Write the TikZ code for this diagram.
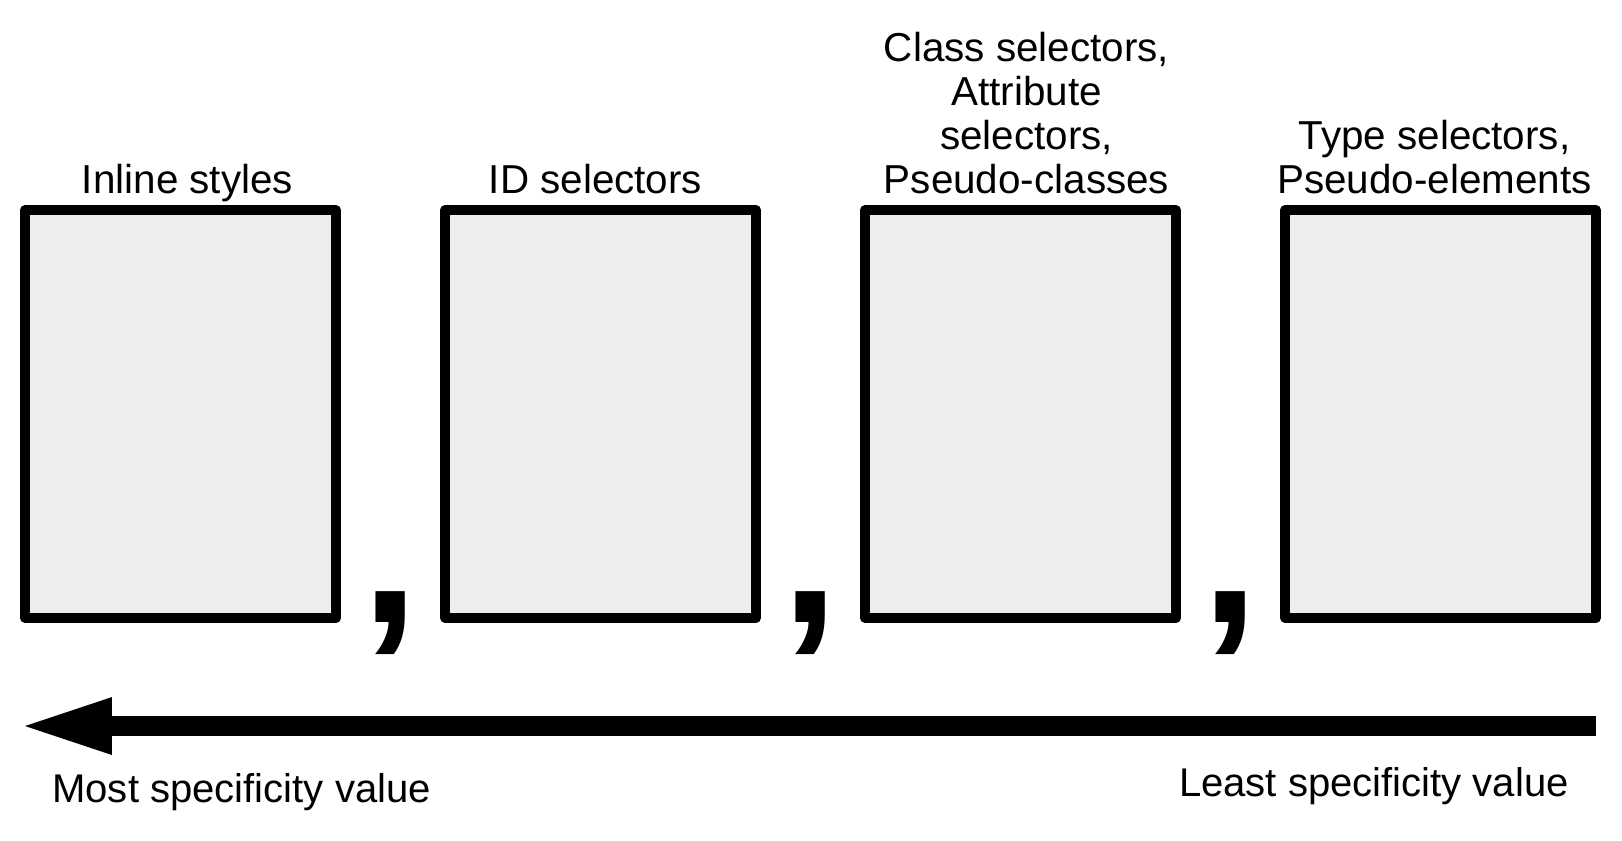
\documentclass[tikz,border=0pt]{standalone}
\usepackage{fontspec}
\setmainfont{Liberation Sans}
\usepackage{tikz}
\usetikzlibrary{positioning, arrows.meta}
\definecolor{boxgray}{HTML}{EDEDED}

\begin{document}
\begin{tikzpicture}[x=0.02cm, y=-0.02cm,
    selbox/.style={draw, line width=0.2cm, fill=boxgray, line join=round,
      minimum width=6.22cm, minimum height=8.16cm, inner sep=0pt, outer sep=0pt},
    sellabel/.style={align=center, inner sep=0pt, text depth=0pt,
      font=\fontsize{23}{25}\selectfont},
    endlabel/.style={inner sep=0pt, font=\fontsize{22.8}{25}\selectfont},
    sepcomma/.style={anchor=base, inner sep=0pt,
      font=\fontsize{118}{118}\selectfont\bfseries}]
    \useasboundingbox (0,0) rectangle (1622,840);

    % Selector boxes
    \node[selbox] (inl) at (180.5,414) {};
    \node[selbox] (idsel) at (600.5,414) {};
    \node[selbox] (cls) at (1020.5,414) {};
    \node[selbox] (typ) at (1440.5,414) {};

    % Titles above the boxes
    \node[sellabel, above=0.32cm of inl, xshift=0.14cm] (inllab) {Inline styles};
    \node[sellabel, above=0.32cm of idsel, xshift=-0.1cm] (idlab) {ID selectors};
    \node[sellabel, above=0.32cm of cls, xshift=0.12cm] (clslab) {Class selectors,\\Attribute\\selectors,\\Pseudo-classes};
    \node[sellabel, above=0.32cm of typ, xshift=-0.12cm] (typlab) {Type selectors,\\Pseudo-elements};

    % Commas between the boxes
    \node[sepcomma] (comma1) at (390.5,622) {,};
    \node[sepcomma] (comma2) at (810.5,622) {,};
    \node[sepcomma] (comma3) at (1230.5,622) {,};

    % Specificity arrow
    \coordinate (leastend) at (1596,726);
    \coordinate (mostend) at (25,726);
    \draw[line width=0.4cm, -{Triangle[length=1.74cm, width=1.16cm, line width=0pt]}] (leastend) -- (mostend);

    % Arrow end labels
    \node[endlabel, anchor=base west] (mostlab) at (52,802) {Most specificity value};
    \node[endlabel, anchor=base east] (leastlab) at (1569,796) {Least specificity value};
\end{tikzpicture}
\end{document}
